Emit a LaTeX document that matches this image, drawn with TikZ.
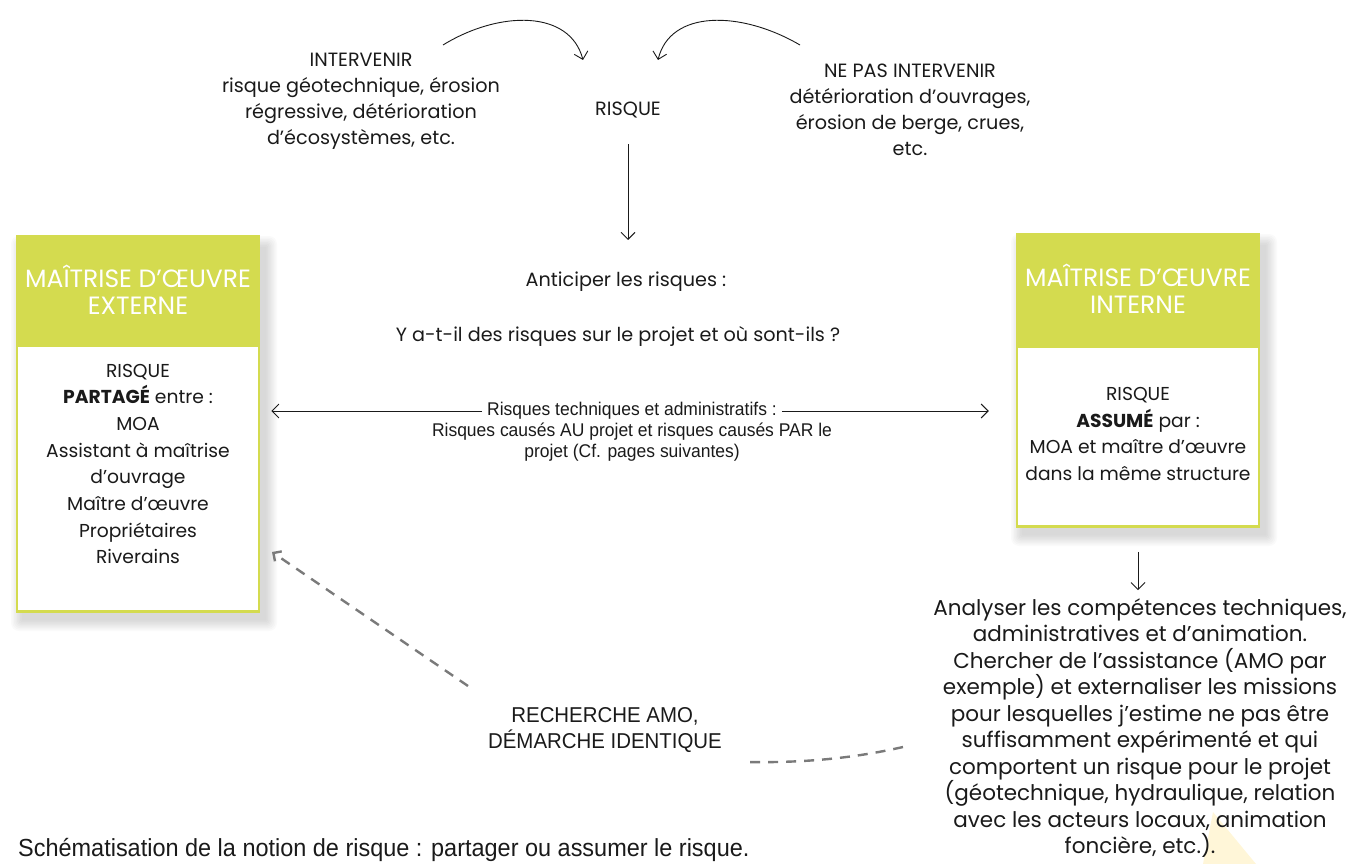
\documentclass[tikz,border=0pt]{standalone}
\usepackage{fontspec}
\setmainfont{Poppins}
\newfontfamily\headfont{Poppins}
\newfontfamily\narrowfont[FakeStretch=0.95]{Liberation Sans}
\usetikzlibrary{calc,arrows.meta,positioning}
\definecolor{lime}{HTML}{D4DB4F}
\definecolor{ink}{HTML}{1A1A1A}
\definecolor{dashgrey}{HTML}{7A7A7A}
\definecolor{paleyellow}{HTML}{FFF6D8}
\tikzset{
  txt/.style={text=ink, align=center, inner sep=0pt, font=\fontsize{19.2}{26}\selectfont},
  headbox/.style={fill=lime, draw=lime, line width=2.5pt, text=white, align=center,
    font=\headfont\fontsize{25}{27}\selectfont, minimum width=242pt, inner sep=0pt},
  bodybox/.style={fill=white, draw=lime, line width=2.5pt, minimum width=242pt, inner sep=0pt},
  bodytxt/.style={txt, font=\fontsize{18.7}{26.7}\selectfont},
  narrow/.style={text=ink, align=center, inner sep=0pt, font=\narrowfont\fontsize{18.4}{21}\selectfont},
  arr/.style={draw=ink, line width=0.9pt, -{Straight Barb[length=7pt,width=14pt]}},
  dasharr/.style={draw=dashgrey, line width=2.4pt, dash pattern=on 10pt off 8pt},
}

\begin{document}
\begin{tikzpicture}[x=1pt,y=-1pt]
  \useasboundingbox (0,0) rectangle (1347,864);
  \fill[paleyellow] (1213,812) -- (1256,864) -- (1203,864) -- cycle;

  % soft shadows under the two boxes
  \foreach \xa/\ya/\xb/\yb in {17/236/259/609, 1017/234/1259/524}
    \foreach \r in {1,...,8}
      \fill[black, opacity=0.018, rounded corners=\r pt]
        (\xa+6-1.5*\r, \ya+12-1.5*\r) rectangle (\xb+6+1.5*\r, \yb+10+1.5*\r);

  % top part
  \node[txt] (risk) at (628,110) {RISQUE};
  \node[txt] (interv) at (361,101) {INTERVENIR\\risque géotechnique, érosion\\régressive, détérioration\\d’écosystèmes, etc.};
  \node[txt] (nointerv) at (910,110) {NE PAS INTERVENIR\\détérioration d’ouvrages,\\érosion de berge, crues,\\etc.};
  \coordinate (lstart) at (443,45);
  \coordinate (lend) at (583,60);
  \coordinate (rstart) at (800,45);
  \coordinate (rend) at (658,60);
  \draw[arr] (lstart) .. controls (500,10) and (570,10) .. (lend);
  \draw[arr] (rstart) .. controls (740,10) and (670,10) .. (rend);

  \node[txt] (anticip) at (626,282) {Anticiper les risques :};
  \node[txt] (question) at (618,336) {Y a-t-il des risques sur le projet et où sont-ils ?};
  \draw[arr, shorten <=26pt, shorten >=32pt] (risk.south) -- (risk.south |- anticip.north);

  % the two boxes
  \node[headbox, minimum height=107pt] (exthead) at (138,289.5) {MAÎTRISE D’ŒUVRE\\EXTERNE};
  \node[bodybox, minimum height=266pt, below=0pt of exthead] (ext) {};
  \node[bodytxt] (exttxt) at (138,464) {RISQUE\\\textbf{PARTAGÉ} entre :\\MOA\\Assistant à maîtrise\\d’ouvrage\\Maître d’œuvre\\Propriétaires\\Riverains};

  \node[headbox, minimum height=110pt] (inthead) at (1138,289) {MAÎTRISE D’ŒUVRE\\INTERNE};
  \node[bodybox, minimum height=180pt, below=0pt of inthead] (int) {};
  \node[bodytxt] (inttxt) at (1138,434) {RISQUE\\\textbf{ASSUMÉ} par :\\MOA et maître d’œuvre\\dans la même structure};

  % link between the boxes
  \node[narrow, fill=white, inner xsep=5pt] (tech1) at (632,411) {Risques techniques et administratifs :};
  \node[narrow, below=3pt of tech1] (tech2) {Risques causés AU projet et risques causés PAR le\\projet (Cf. pages suivantes)};
  \draw[arr] (tech1) -- ($(ext.east |- tech1)+(11,0)$);
  \draw[arr] (tech1) -- ($(int.west |- tech1)+(-27,0)$);

  % internal route
  \node[txt, font=\fontsize{21.5}{26.5}\selectfont] (analyse) at (1140,728) {Analyser les compétences techniques,\\administratives et d’animation.\\Chercher de l’assistance (AMO par\\exemple) et externaliser les missions\\pour lesquelles j’estime ne pas être\\suffisamment expérimenté et qui\\comportent un risque pour le projet\\(géotechnique, hydraulique, relation\\avec les acteurs locaux, animation\\foncière, etc.).};
  \draw[arr, shorten <=24pt, shorten >=8pt] (int.south) -- (int.south |- analyse.north);

  \node[narrow, font=\narrowfont\fontsize{21.5}{26}\selectfont] (amo) at (605,730) {RECHERCHE AMO,\\DÉMARCHE IDENTIQUE};
  \coordinate (dstart) at (903,747);
  \coordinate (dgapr) at (745,762);
  \coordinate (dgapl) at (468,686);
  \coordinate (dtip) at (272,552);
  \draw[dasharr] (dstart) .. controls (850,759) and (800,763) .. (dgapr);
  \draw[dasharr, -{Straight Barb[length=6pt,width=12pt]}] (dgapl) -- (dtip);

  \node[narrow, anchor=west, font=\narrowfont\fontsize{24.7}{26}\selectfont] (caption) at (18,850) {Schématisation de la notion de risque : partager ou assumer le risque.};
\end{tikzpicture}
\end{document}
